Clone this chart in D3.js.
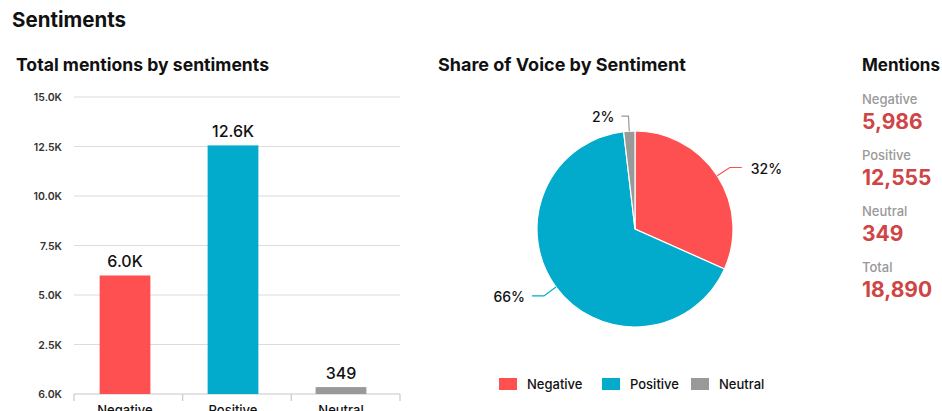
<!DOCTYPE html>
<html>
<head>
<meta charset="utf-8">
<script src="https://cdn.jsdelivr.net/npm/d3@7"></script>
<style>
  body { margin: 0; background: #fff; }
  svg { font-family: Inter, "Noto Sans", sans-serif; display: block; }
</style>
</head>
<body>
<svg id="chart" width="942" height="411"></svg>
<script>
// data
const categories = ["Negative", "Positive", "Neutral"];
const mentions = [5986, 12555, 349];
const barLabels = ["6.0K", "12.6K", "349"];
const yTicks = [0, 2500, 5000, 7500, 10000, 12500, 15000];
const yTickLabels = ["6.0K", "2.5K", "5.0K", "7.5K", "10.0K", "12.5K", "15.0K"];
const pieLabels = ["32%", "66%", "2%"];
const summaryLabels = ["Negative", "Positive", "Neutral", "Total"];
const summaryValues = ["5,986", "12,555", "349", "18,890"];

const colors = { Negative: "#fe5050", Positive: "#02aacb", Neutral: "#999999" };

const svg = d3.select("#chart");

svg.append("text")
    .attr("x", 12).attr("y", 27)
    .attr("font-size", 20.5).attr("font-weight", 700).attr("fill", "#111")
    .text("Sentiments");

/////// BAR CHART
svg.append("text")
    .attr("x", 16).attr("y", 71)
    .attr("font-size", 17.6).attr("font-weight", 700).attr("fill", "#111")
    .text("Total mentions by sentiments");

const y = d3.scaleLinear().domain([0, 15000]).range([394, 97]);
const x = d3.scaleBand().domain(categories).range([71, 395]).paddingInner(0.53).paddingOuter(0.265);
const gridX = [74, 400];

const grid = svg.append("g");
grid.selectAll("line")
    .data(yTicks)
    .join("line")
    .attr("x1", gridX[0]).attr("x2", gridX[1])
    .attr("y1", d => y(d)).attr("y2", d => y(d))
    .attr("stroke", d => d === 0 ? "#c8c8c8" : "#dcdcdc")
    .attr("stroke-width", 1.2);

grid.selectAll("text")
    .data(yTicks)
    .join("text")
    .attr("x", 62).attr("y", d => y(d) + 4)
    .attr("text-anchor", "end")
    .attr("font-size", 10.5).attr("font-weight", 600).attr("fill", "#333")
    .text((d, i) => yTickLabels[i]);

// separator ticks under the baseline
const sep = d3.scaleLinear().domain([0, 3]).range(gridX);
svg.append("g").selectAll("line")
    .data([0, 1, 2, 3])
    .join("line")
    .attr("x1", d => sep(d)).attr("x2", d => sep(d))
    .attr("y1", y(0)).attr("y2", y(0) + 7)
    .attr("stroke", "#c8c8c8").attr("stroke-width", 1.2);

svg.append("g").selectAll("rect")
    .data(categories)
    .join("rect")
    .attr("x", d => x(d))
    .attr("width", x.bandwidth())
    .attr("y", (d, i) => y(mentions[i]))
    .attr("height", (d, i) => y(0) - y(mentions[i]))
    .attr("fill", d => colors[d]);

svg.append("g").selectAll("text")
    .data(categories)
    .join("text")
    .attr("x", d => x(d) + x.bandwidth() / 2)
    .attr("y", (d, i) => y(mentions[i]) - 8)
    .attr("text-anchor", "middle")
    .attr("font-size", 16).attr("font-weight", 500).attr("fill", "#111")
    .text((d, i) => barLabels[i]);

svg.append("g").selectAll("text")
    .data(categories)
    .join("text")
    .attr("x", d => x(d) + x.bandwidth() / 2)
    .attr("y", 415)
    .attr("text-anchor", "middle")
    .attr("font-size", 13).attr("font-weight", 500).attr("fill", "#111")
    .text(d => d);

/////// PIE CHART
svg.append("text")
    .attr("x", 438).attr("y", 71)
    .attr("font-size", 18).attr("font-weight", 700).attr("fill", "#111")
    .text("Share of Voice by Sentiment");

const cx = 635, cy = 229, r = 98;
const pieData = d3.pie().sort(null)(mentions);
const arc = d3.arc().innerRadius(0).outerRadius(r);

const pg = svg.append("g").attr("transform", `translate(${cx},${cy})`);
pg.selectAll("path")
    .data(pieData)
    .join("path")
    .attr("d", arc)
    .attr("fill", (d, i) => colors[categories[i]])
    .attr("stroke", "#fff")
    .attr("stroke-width", 1.2);

// leader lines + labels
pieData.forEach((d, i) => {
    const a = (d.startAngle + d.endAngle) / 2;
    const p0 = [Math.sin(a) * r, -Math.cos(a) * r];
    const p1 = [Math.sin(a) * (r + 15), -Math.cos(a) * (r + 15)];
    const dir = Math.sin(a) >= 0 ? 1 : -1;
    const seg = Math.abs(Math.sin(a)) < 0.2 ? 7 : 12;
    const p2 = [p1[0] + dir * seg, p1[1]];
    pg.append("path")
        .attr("d", `M${p0[0]},${p0[1]}L${p1[0]},${p1[1]}L${p2[0]},${p2[1]}`)
        .attr("fill", "none")
        .attr("stroke", colors[categories[i]])
        .attr("stroke-width", 1.2);
    pg.append("text")
        .attr("x", p2[0] + dir * (dir > 0 ? 9 : 7))
        .attr("y", p2[1] + 6)
        .attr("text-anchor", dir > 0 ? "start" : "end")
        .attr("font-size", 14).attr("font-weight", 500).attr("fill", "#111")
        .text(pieLabels[i]);
});

// legend
const legendX = [499, 602, 691];
const lg = svg.append("g").selectAll("g")
    .data(categories)
    .join("g")
    .attr("transform", (d, i) => `translate(${legendX[i]},378)`);
lg.append("rect")
    .attr("width", 18).attr("height", 12)
    .attr("fill", d => colors[d]);
lg.append("text")
    .attr("x", 28).attr("y", 11)
    .attr("font-size", 13).attr("font-weight", 500).attr("fill", "#111")
    .text(d => d);

/////// SUMMARY
svg.append("text")
    .attr("x", 862).attr("y", 71)
    .attr("font-size", 17).attr("font-weight", 700).attr("fill", "#111")
    .text("Mentions");

const sg = svg.append("g").selectAll("g")
    .data(summaryLabels)
    .join("g")
    .attr("transform", (d, i) => `translate(862,${104 + i * 56})`);
sg.append("text")
    .attr("font-size", 13).attr("font-weight", 500).attr("fill", "#999")
    .text(d => d);
sg.append("text")
    .attr("y", 25)
    .attr("font-size", 21).attr("font-weight", 700).attr("fill", "#cf4545")
    .text((d, i) => summaryValues[i]);
</script>
</body>
</html>
